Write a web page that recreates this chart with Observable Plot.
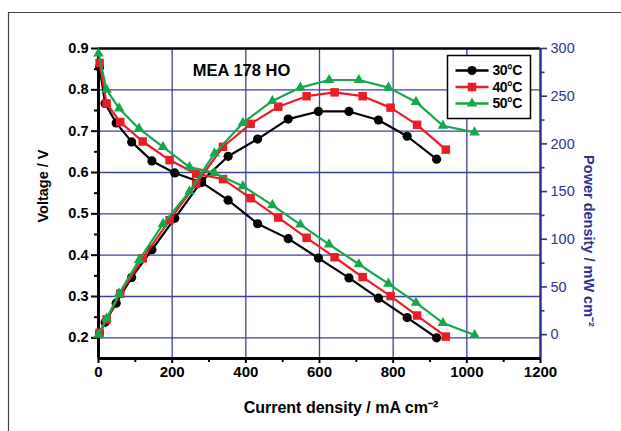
<!DOCTYPE html>
<html><head><meta charset="utf-8">
<script src="https://cdn.jsdelivr.net/npm/d3@7"></script>
<script src="https://cdn.jsdelivr.net/npm/@observablehq/plot@0.6"></script>
<style>body{margin:0;background:#fff} svg{display:block}</style>
</head><body><div id="chart"></div>
<script>
// ---- data ----
const series = ["30°C", "40°C", "50°C"];
const current30 = [3, 18, 48, 90, 145, 207, 280, 352, 432, 515, 597, 680, 760, 838, 918];
const voltage30 = [0.855, 0.767, 0.720, 0.674, 0.628, 0.599, 0.576, 0.533, 0.476, 0.440, 0.393, 0.345, 0.296, 0.249, 0.200];
const power30   = [2, 13, 33, 60, 89, 122, 161, 187, 205, 226, 234, 234, 225, 208, 184];
const current40 = [3, 22, 59, 120, 193, 265, 338, 413, 488, 565, 641, 717, 793, 865, 943];
const voltage40 = [0.865, 0.767, 0.722, 0.675, 0.630, 0.597, 0.584, 0.538, 0.491, 0.442, 0.395, 0.347, 0.301, 0.254, 0.203];
const power40   = [2, 16, 43, 80, 120, 158, 197, 221, 239, 250, 254, 250, 238, 220, 194];
const current50 = [0, 22, 56, 110, 175, 247, 315, 392, 472, 548, 626, 707, 787, 862, 935, 1021];
const voltage50 = [0.888, 0.800, 0.755, 0.706, 0.662, 0.613, 0.599, 0.567, 0.521, 0.474, 0.426, 0.378, 0.331, 0.285, 0.236, 0.207];
const power50   = [0, 17, 43, 78, 116, 150, 190, 222, 245, 259, 267, 267, 259, 244, 219, 212];

const xTicks = [0, 200, 400, 600, 800, 1000, 1200];
const xMinor = [100, 300, 500, 700, 900, 1100];
const vTicks = [0.2, 0.3, 0.4, 0.5, 0.6, 0.7, 0.8, 0.9];
const vMinor = [0.25, 0.35, 0.45, 0.55, 0.65, 0.75, 0.85];
const pTicks = [0, 50, 100, 150, 200, 250, 300];
const pMinor = [25, 75, 125, 175, 225, 275];
const chartTitle = "MEA 178 HO";
const xLabel = "Current density / mA cm⁻²";
const yLabel = "Voltage / V";
const y2Label = "Power density / mW cm⁻²";

// ---- styling ----
const colors = {"30°C": "#000000", "40°C": "#ec1c24", "50°C": "#13a84a"};
const symbols = {"30°C": "circle", "40°C": "square", "50°C": "triangle"};
const radii = {"30°C": 4.6, "40°C": 4.8, "50°C": 3.9};
const gridColor = "#3b40a0";
const navy = "#2e3192";

const vDomain = [0.15, 0.9];
const pDomain = [-25, 300];
const p2v = p => vDomain[0] + (p - pDomain[0]) / (pDomain[1] - pDomain[0]) * (vDomain[1] - vDomain[0]);
const v2p = v => pDomain[0] + (v - vDomain[0]) / (vDomain[1] - vDomain[0]) * (pDomain[1] - pDomain[0]);

const table = {
  "30°C": {current: current30, voltage: voltage30, power: power30},
  "40°C": {current: current40, voltage: voltage40, power: power40},
  "50°C": {current: current50, voltage: voltage50, power: power50}
};
const rowsFor = s => {
  const t = table[s];
  const vRows = t.current.map((c, i) => ({series: s, kind: "V", current: c, y: t.voltage[i]}));
  const pRows = t.current.map((c, i) => ({series: s, kind: "P", current: c, y: p2v(t.power[i])}));
  return [vRows, pRows];
};

const dataMarks = [];
for (const s of series) {
  for (const rows of rowsFor(s)) {
    dataMarks.push(Plot.line(rows, {x: "current", y: "y", stroke: colors[s], strokeWidth: 2.2}));
    dataMarks.push(Plot.dot(rows, {x: "current", y: "y", symbol: symbols[s], r: radii[s], fill: colors[s], stroke: "none"}));
  }
}

const chart = Plot.plot({
  width: 621, height: 431,
  marginLeft: 98, marginRight: 81, marginTop: 48, marginBottom: 73,
  style: {fontFamily: "'Liberation Sans', Arial, sans-serif", fontSize: "14px", background: "#fff", overflow: "visible"},
  x: {domain: [0, 1200]},
  y: {domain: vDomain},
  marks: [
    Plot.gridX(xTicks.slice(1, -1), {stroke: gridColor, strokeOpacity: 1, strokeWidth: 1.3}),
    Plot.gridY(vTicks.slice(0, -1), {stroke: gridColor, strokeOpacity: 1, strokeWidth: 1.3}),
    // left axis
    Plot.axisY(vTicks, {anchor: "left", tickSize: 7, tickPadding: 3, strokeWidth: 2, color: "#000", tickFormat: d3.format(".1f"), fontSize: 14.5, fontWeight: "bold", label: null}),
    Plot.axisY(vMinor, {anchor: "left", tickSize: 4, strokeWidth: 2, color: "#000", tickFormat: () => "", label: null}),
    // right axis (power)
    Plot.axisY(pTicks.map(p2v), {anchor: "right", tickSize: 6, tickPadding: 4, strokeWidth: 1.6, color: navy, tickFormat: v => String(Math.round(v2p(v))), fontSize: 14.5, fontWeight: "normal", label: null}),
    Plot.axisY(pMinor.map(p2v), {anchor: "right", tickSize: 3.5, strokeWidth: 1.6, color: navy, tickFormat: () => "", label: null}),
    // bottom axis
    Plot.axisX(xTicks, {anchor: "bottom", tickSize: 5, tickPadding: 3, strokeWidth: 2, color: "#000", tickFormat: d => String(d), fontSize: 15, fontWeight: "bold", label: null}),
    Plot.axisX(xMinor, {anchor: "bottom", tickSize: 4, strokeWidth: 2, color: "#000", tickFormat: () => "", label: null}),
    // frame lines
    Plot.ruleY([vDomain[1]], {stroke: "#000", strokeWidth: 2.5}),
    Plot.ruleX([1200], {stroke: navy, strokeWidth: 2.5}),
    Plot.ruleX([0], {stroke: "#000", strokeWidth: 3}),
    Plot.ruleY([vDomain[0]], {stroke: "#000", strokeWidth: 3}),
    ...dataMarks,
    Plot.text([chartTitle], {frameAnchor: "top-left", dx: 143, dy: 22, textAnchor: "middle", lineAnchor: "middle", fontSize: 16.5, fontWeight: "bold", fill: "#000"})
  ]
});

const svg = d3.select(chart);
// outer figure border
svg.append("path").attr("d", "M8.5,431V12.5H621").attr("fill", "none").attr("stroke", "#444").attr("stroke-width", 1.2);
// axis labels
svg.append("text").text(yLabel).attr("transform", "translate(43,186) rotate(-90)")
  .attr("text-anchor", "middle").attr("dy", "0.35em").attr("font-weight", "bold").attr("font-size", 14.5).attr("fill", "#000");
svg.append("text").text(y2Label).attr("transform", "translate(589,241) rotate(90)")
  .attr("text-anchor", "middle").attr("dy", "0.35em").attr("font-weight", "bold").attr("font-size", 14.5).attr("fill", navy);
svg.append("text").text(xLabel).attr("x", 341).attr("y", 407)
  .attr("text-anchor", "middle").attr("dy", "0.35em").attr("font-weight", "bold").attr("font-size", 16).attr("fill", "#000");

// legend
const lg = svg.append("g").attr("transform", "translate(447.5,55.5)");
lg.append("rect").attr("width", 83).attr("height", 63).attr("fill", "#fff").attr("stroke", "#000").attr("stroke-width", 1.5);
series.forEach((s, i) => {
  const yy = 15 + i * 16.5;
  lg.append("line").attr("x1", 8).attr("x2", 41).attr("y1", yy).attr("y2", yy).attr("stroke", colors[s]).attr("stroke-width", 2.5);
  lg.append("path").attr("d", d3.symbol(s === "30°C" ? d3.symbolCircle : s === "40°C" ? d3.symbolSquare : d3.symbolTriangle, Math.PI * radii[s] * radii[s])())
    .attr("transform", `translate(24.5,${yy})`).attr("fill", colors[s]);
  lg.append("text").text(s).attr("x", 45).attr("y", yy).attr("dy", "0.35em").attr("text-anchor", "start")
    .attr("font-weight", "bold").attr("font-size", 14).attr("letter-spacing", "-0.5").attr("fill", "#000");
});

document.getElementById("chart").append(chart);
</script>
</body></html>
